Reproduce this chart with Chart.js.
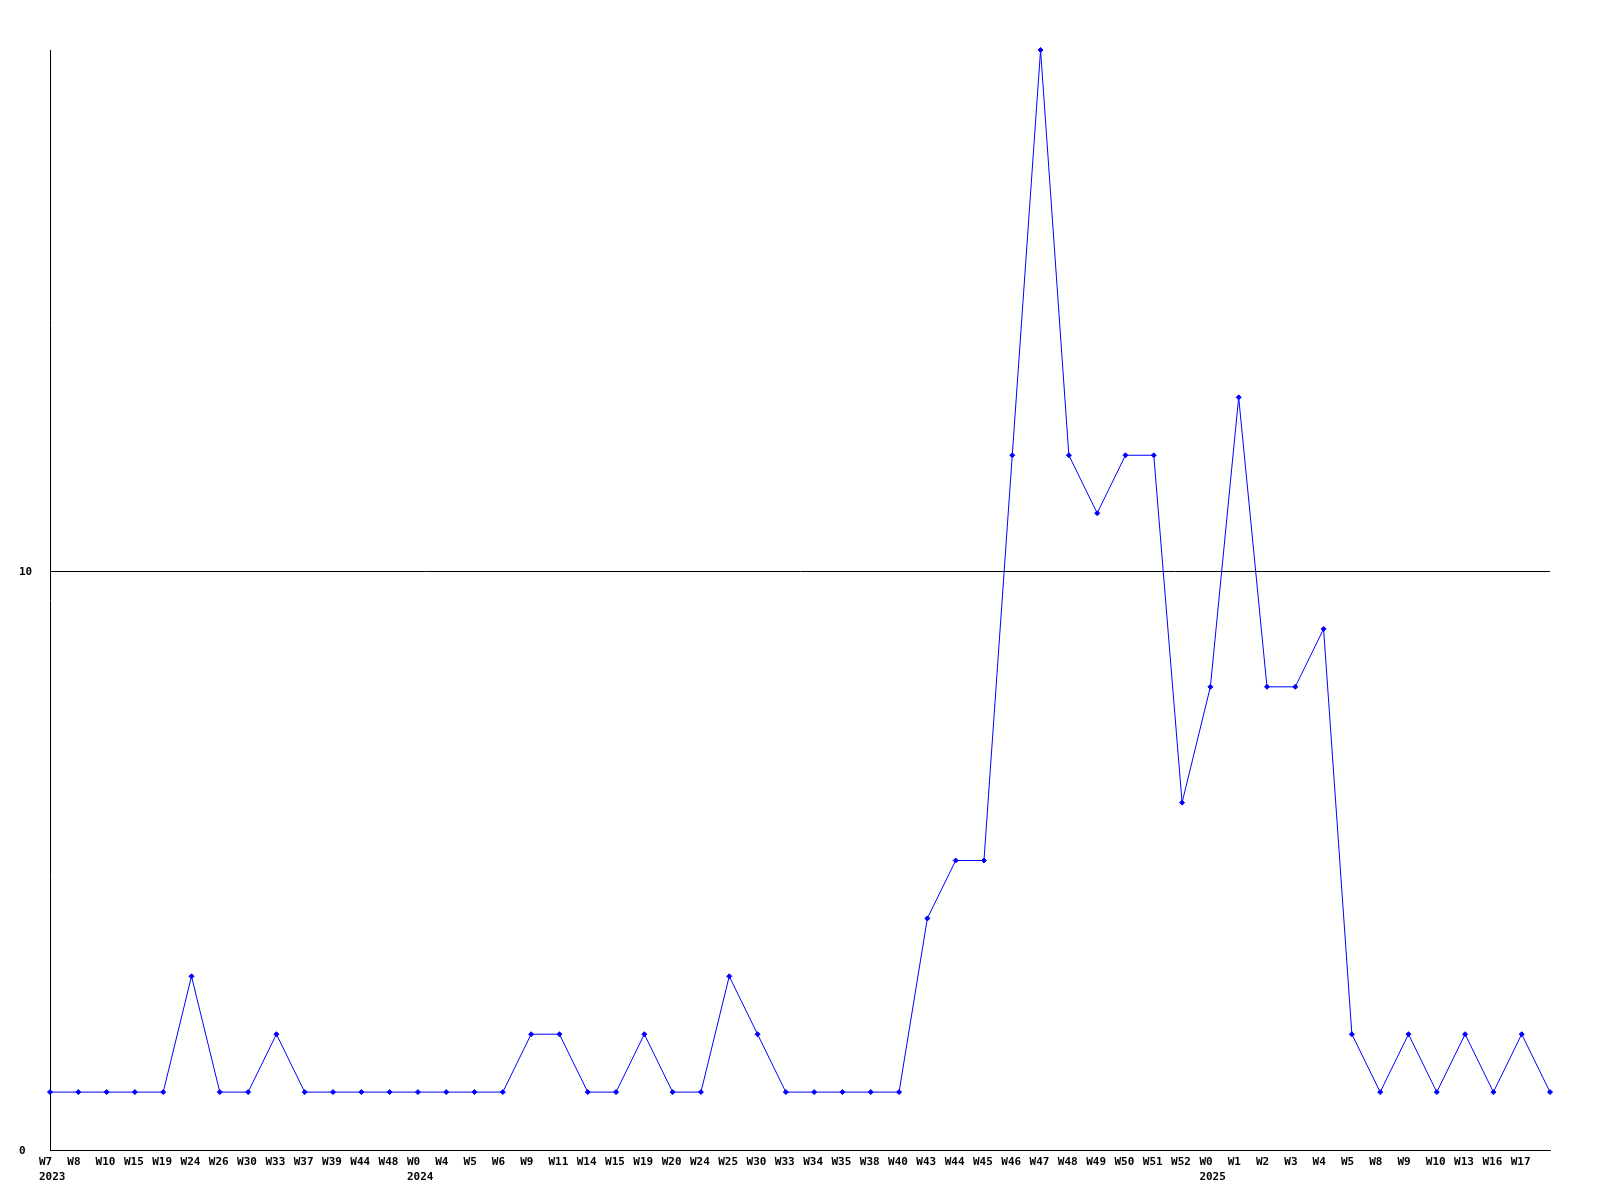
<!DOCTYPE html>
<html>
<head>
<meta charset="utf-8">
<script src="https://cdn.jsdelivr.net/npm/chart.js@4.4.1/dist/chart.umd.min.js"></script>
<style>
  body { margin: 0; background: #fff; }
  #wrap { width: 1600px; height: 1200px; }
</style>
</head>
<body>
<div id="wrap"><canvas id="myChart" width="1600" height="1200"></canvas></div>
<script>
// semaines (axe X), la dernière n'a pas d'étiquette
const weekLabels = [
  "W7", "W8", "W10", "W15", "W19", "W24", "W26", "W30", "W33", "W37", "W39", "W44", "W48",
  "W0", "W4", "W5", "W6", "W9", "W11", "W14", "W15", "W19", "W20", "W24", "W25", "W30",
  "W33", "W34", "W35", "W38", "W40", "W43", "W44", "W45", "W46", "W47", "W48", "W49",
  "W50", "W51", "W52",
  "W0", "W1", "W2", "W3", "W4", "W5", "W8", "W9", "W10", "W13", "W16", "W17", ""
];

// années sous la première semaine de chaque année
const yearLabels = weekLabels.map(() => "");
yearLabels[0] = "2023";
yearLabels[13] = "2024";
yearLabels[41] = "2025";

// valeurs de la série
const values = [
  1, 1, 1, 1, 1, 3, 1, 1, 2, 1, 1, 1, 1,
  1, 1, 1, 1, 2, 2, 1, 1, 2, 1, 1, 3, 2,
  1, 1, 1, 1, 1, 4, 5, 5, 12, 19, 12, 11,
  12, 12, 6,
  8, 13, 8, 8, 9, 2, 1, 2, 1, 2, 1, 2, 1
];

const yTicks = [0, 10];
const yMax = 19;

const FONT = "bold 11px 'DejaVu Sans Mono', 'Liberation Mono', monospace";

// dessine les étiquettes comme dans l'original (alignées à gauche)
const labelPlugin = {
  id: "labelPlugin",
  afterDraw(chart) {
    const ctx = chart.ctx;
    const xs = chart.scales.x;
    const ys = chart.scales.y;
    const area = chart.chartArea;
    ctx.save();
    ctx.font = FONT;
    ctx.fillStyle = "#000";
    ctx.textAlign = "left";
    ctx.textBaseline = "top";
    for (let i = 0; i < weekLabels.length; i++) {
      const x = xs.getPixelForValue(i) - 11;
      ctx.fillText(weekLabels[i], x, area.bottom + 7);
      if (yearLabels[i]) ctx.fillText(yearLabels[i], x, area.bottom + 22);
    }
    ctx.textBaseline = "middle";
    for (const v of yTicks) {
      ctx.fillText(String(v), 19, ys.getPixelForValue(v) + 1);
    }
    ctx.restore();
  }
};

const ctx = document.getElementById("myChart").getContext("2d");

const myChart = new Chart(ctx, {
  type: "line",
  data: {
    labels: weekLabels,
    datasets: [{
      data: values,
      borderColor: "#0000ff",
      backgroundColor: "#0000ff",
      borderWidth: 1,
      tension: 0,
      fill: false,
      pointStyle: "rectRot",
      pointRadius: 2.5,
      pointBorderWidth: 1,
      pointBorderColor: "#0000ff",
      pointBackgroundColor: "#0000ff",
      clip: false
    }]
  },
  options: {
    responsive: false,
    animation: false,
    layout: { padding: { left: 50, right: 50, top: 50, bottom: 50 } },
    plugins: {
      legend: { display: false },
      tooltip: { enabled: false }
    },
    scales: {
      x: {
        offset: false,
        grid: { display: false, drawTicks: false },
        border: { display: true, color: "#000", width: 1 },
        ticks: { display: false }
      },
      y: {
        min: 0,
        max: yMax,
        afterBuildTicks: (scale) => {
          scale.ticks = yTicks.map((v) => ({ value: v }));
        },
        grid: { display: true, color: "#000", lineWidth: 1, drawTicks: false },
        border: { display: true, color: "#000", width: 1 },
        ticks: { display: false }
      }
    }
  },
  plugins: [labelPlugin]
});
</script>
</body>
</html>
